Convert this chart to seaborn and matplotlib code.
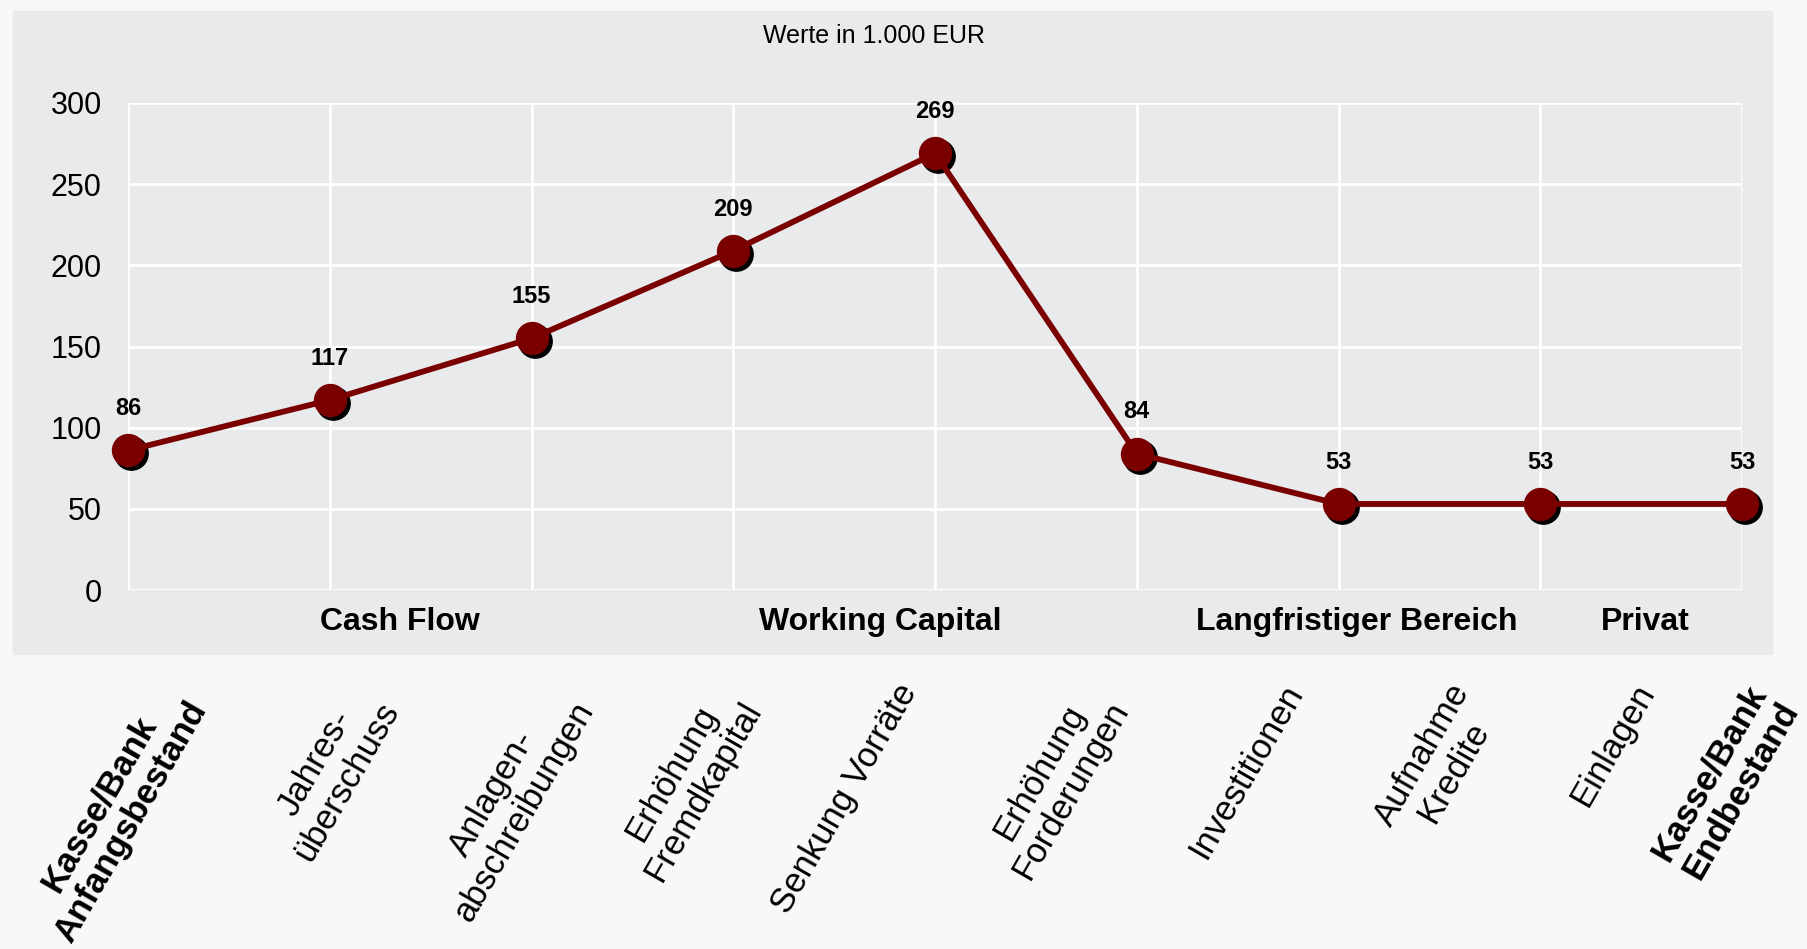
import pandas as pd
import seaborn as sns
import matplotlib.pyplot as plt
from matplotlib.patches import Rectangle
from matplotlib.transforms import offset_copy

# values in 1.000 EUR (running cash balance)
steps = list(range(9))
balance = [86, 117, 155, 209, 269, 84, 53, 53, 53]

step_labels = [
    "Kasse/Bank\nAnfangsbestand", "Jahres-\nüberschuss", "Anlagen-\nabschreibungen",
    "Erhöhung\nFremdkapital", "Senkung Vorräte", "Erhöhung\nForderungen",
    "Investitionen", "Aufnahme\nKredite", "Einlagen", "Kasse/Bank\nEndbestand",
]
bold_labels = ["Kasse/Bank\nAnfangsbestand", "Kasse/Bank\nEndbestand"]

groups = ["Cash Flow", "Working Capital", "Langfristiger Bereich", "Privat"]
group_pos = [1.35, 3.73, 6.09, 7.52]

yticks = [0, 50, 100, 150, 200, 250, 300]

df = pd.DataFrame({"step": steps, "value": balance})

W, H = 1807, 949
sns.set_theme(style="darkgrid")
plt.rcParams["font.family"] = ["Liberation Sans", "DejaVu Sans"]
plt.rcParams["text.color"] = "black"

fig = plt.figure(figsize=(W / 100, H / 100), dpi=100, facecolor="#f8f8f8")
fig.patches.append(Rectangle((13 / W, 1 - 654 / H), (1772 - 13) / W, (654 - 11) / H,
                             transform=fig.transFigure, color="#e9eaec", zorder=-10))

ax = fig.add_axes([128 / W, 1 - 590 / H, (1742 - 128) / W, (590 - 103) / H])
ax.set_facecolor("none")

# marker shadow
shadow = offset_copy(ax.transData, fig=fig, x=3, y=-3, units="dots")
ax.plot(df["step"], df["value"], linestyle="none", marker="o", markersize=24,
        color="black", transform=shadow, clip_on=False, zorder=3)

sns.lineplot(data=df, x="step", y="value", ax=ax, color="#7a0000", linewidth=4.2,
             marker="o", markersize=24, markeredgewidth=0, clip_on=False, zorder=4)

for x, v in zip(steps, balance):
    ax.annotate(str(v), (x, v), xytext=(0, 30), textcoords="offset points",
                ha="center", va="center", fontsize=17, fontweight="bold", color="black")

ax.set_xlim(0, 8)
ax.set_ylim(0, 300)
ax.set_xticks(steps)
ax.set_xticklabels([])
ax.set_yticks(yticks)
ax.tick_params(axis="y", labelsize=22, pad=19, length=0, colors="black")
ax.tick_params(axis="x", length=0)
ax.grid(True, color="white", linewidth=2)
for s in ax.spines.values():
    s.set_visible(False)
ax.set_xlabel("")
ax.set_ylabel("")

for g, gx in zip(groups, group_pos):
    ax.text(gx, -19.7, g, ha="center", va="center", fontsize=23, fontweight="bold",
            color="black")

fig.text(874 / W, 1 - 36 / H, "Werte in 1.000 EUR", ha="center", va="center",
         fontsize=18, color="black")

label_x = [115, 331, 508, 687, 844, 1055, 1246, 1438, 1613, 1725]
for lab, lx in zip(step_labels, label_x):
    fig.text(lx / W, 1 - 678 / H, lab, rotation=60, ha="center", va="top",
             multialignment="center", fontsize=25, linespacing=1.12, color="black",
             fontweight="bold" if lab in bold_labels else "normal")

fig.savefig("out.png", dpi=100, facecolor=fig.get_facecolor())
